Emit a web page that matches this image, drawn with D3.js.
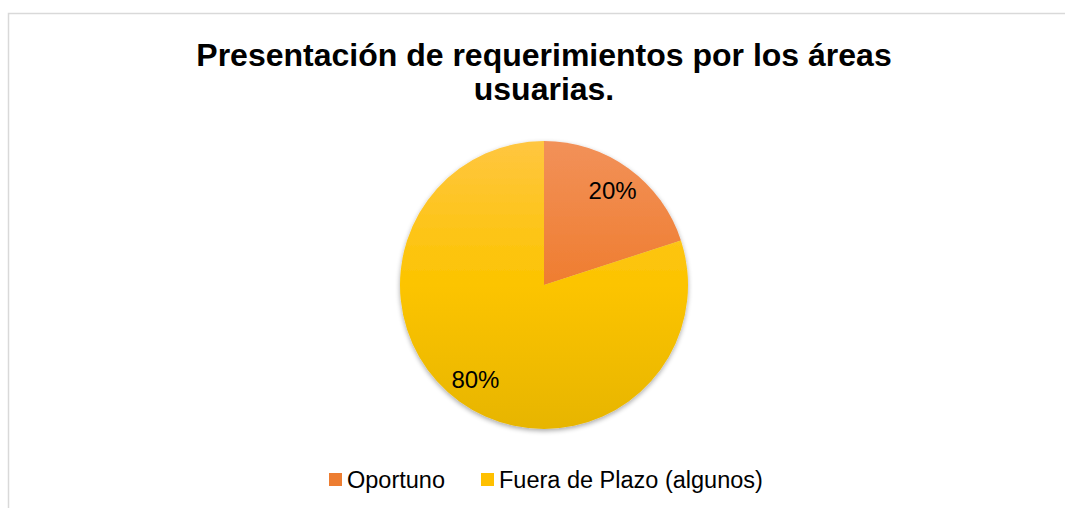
<!DOCTYPE html>
<html>
<head>
<meta charset="utf-8">
<script src="https://cdn.jsdelivr.net/npm/d3@7"></script>
<style>
  body { margin: 0; background: #fff; }
  text { font-family: "Liberation Sans", Arial, sans-serif; }
</style>
</head>
<body>
<script>
// data
var categories = ["Oportuno", "Fuera de Plazo (algunos)"];
var values = [20, 80];
var labels = ["20%", "80%"];
var colorsTop = ["#f29159", "#ffc640"];
var colorsMid = ["#ef7d30", "#fcc400"];
var colorsBottom = ["#e86a18", "#e7b500"];
var legendColors = ["#ed7d31", "#ffc000"];

var width = 1065, height = 508;

var svg = d3.select("body").append("svg")
    .attr("width", width)
    .attr("height", height);

// chart border
svg.append("rect")
    .attr("x", 8.5).attr("y", 13.5)
    .attr("width", width + 10).attr("height", height + 10)
    .attr("fill", "#fff")
    .attr("stroke", "#d9d9d9")
    .attr("stroke-width", 1.5);

// title
var title = svg.append("text")
    .attr("text-anchor", "middle")
    .attr("font-weight", "bold")
    .attr("font-size", "32px")
    .attr("fill", "#000");
title.append("tspan").attr("x", 544).attr("y", 66)
    .text("Presentación de requerimientos por los áreas");
title.append("tspan").attr("x", 544).attr("y", 100)
    .text("usuarias.");

var cx = 544, cy = 285, r = 144;

var defs = svg.append("defs");
categories.forEach(function (c, i) {
    var g = defs.append("linearGradient")
        .attr("id", "grad" + i)
        .attr("gradientUnits", "userSpaceOnUse")
        .attr("x1", 0).attr("y1", -r).attr("x2", 0).attr("y2", r);
    g.append("stop").attr("offset", "0%").attr("stop-color", colorsTop[i]);
    g.append("stop").attr("offset", "50%").attr("stop-color", colorsMid[i]);
    g.append("stop").attr("offset", "100%").attr("stop-color", colorsBottom[i]);
});

var shadow = defs.append("filter").attr("id", "shadow")
    .attr("x", "-20%").attr("y", "-20%").attr("width", "140%").attr("height", "140%");
shadow.append("feGaussianBlur").attr("in", "SourceAlpha").attr("stdDeviation", 2.5);
shadow.append("feOffset").attr("dx", 0).attr("dy", 2).attr("result", "ob");
shadow.append("feComponentTransfer").append("feFuncA").attr("type", "linear").attr("slope", 0.35);
var merge = shadow.append("feMerge");
merge.append("feMergeNode");
merge.append("feMergeNode").attr("in", "SourceGraphic");

var pie = d3.pie().sort(null).value(function (d) { return d; });
var arc = d3.arc().innerRadius(0).outerRadius(r);
var labelArc = d3.arc().innerRadius(r * 0.81).outerRadius(r * 0.81);

var g = svg.append("g")
    .attr("transform", "translate(" + cx + "," + cy + ")");

var arcs = pie(values);

g.append("g").attr("filter", "url(#shadow)")
    .selectAll("path")
    .data(arcs)
    .enter().append("path")
    .attr("d", arc)
    .attr("fill", function (d, i) { return "url(#grad" + i + ")"; });

g.selectAll("text.lbl")
    .data(arcs)
    .enter().append("text")
    .attr("class", "lbl")
    .attr("transform", function (d) { return "translate(" + labelArc.centroid(d) + ")"; })
    .attr("text-anchor", "middle")
    .attr("dy", "0.35em")
    .attr("font-size", "24px")
    .attr("fill", "#000")
    .text(function (d, i) { return labels[i]; });

// legend
var legendX = [329, 481];
var legend = svg.selectAll("g.leg")
    .data(categories)
    .enter().append("g")
    .attr("class", "leg")
    .attr("transform", function (d, i) { return "translate(" + legendX[i] + ",473)"; });
legend.append("rect")
    .attr("width", 13).attr("height", 13)
    .attr("fill", function (d, i) { return legendColors[i]; });
legend.append("text")
    .attr("x", 18).attr("y", 14.5)
    .attr("font-size", "23.5px")
    .attr("fill", "#000")
    .text(function (d) { return d; });
</script>
</body>
</html>
